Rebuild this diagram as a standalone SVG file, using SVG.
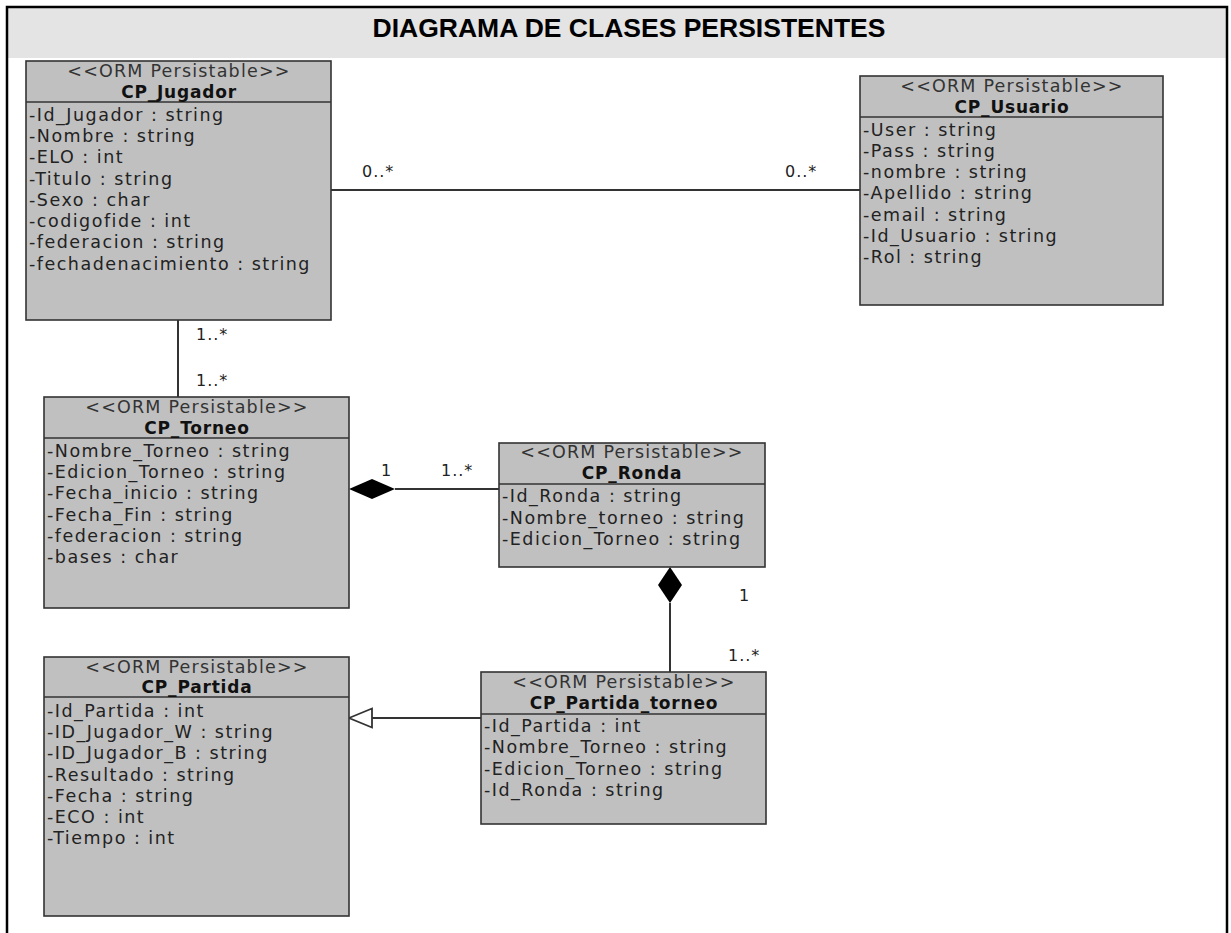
<svg xmlns="http://www.w3.org/2000/svg" width="1231" height="933" viewBox="0 0 1231 933">
  <style>
    .cls { fill: #c0c0c0; stroke: #333333; stroke-width: 1.6; }
    .sep { stroke: #333333; stroke-width: 1.6; }
    .st { font-family: "DejaVu Sans", sans-serif; font-size: 17.5px; letter-spacing: 1.2px; fill: #333333; text-anchor: middle; }
    .nm { font-family: "DejaVu Sans", sans-serif; font-size: 17px; font-weight: bold; letter-spacing: 0.8px; fill: #111111; text-anchor: middle; }
    .at { font-family: "DejaVu Sans", sans-serif; font-size: 17.5px; letter-spacing: 1.5px; fill: #222222; }
    .lbl { font-family: "DejaVu Sans", sans-serif; font-size: 16px; letter-spacing: 1px; fill: #222222; }
    .ln { stroke: #333333; stroke-width: 2; fill: none; }
    .title { font-family: "Liberation Sans", Arial, sans-serif; font-size: 26.5px; font-weight: bold; fill: #000000; text-anchor: middle; }
  </style>

  <!-- page frame and title band -->
  <rect x="8" y="8" width="1219" height="50" fill="#e4e4e4"/>
  <path d="M7,933 L7,7 L1227,7 L1227,933" fill="none" stroke="#000000" stroke-width="2.5"/>
  <text class="title" x="629" y="37">DIAGRAMA DE CLASES PERSISTENTES</text>

  <!-- connectors -->
  <g id="connectors">
    <!-- Jugador - Usuario association -->
    <line class="ln" x1="331" y1="190" x2="860" y2="190"/>
    <text class="lbl" x="362" y="177">0..*</text>
    <text class="lbl" x="785" y="177">0..*</text>
    <!-- Jugador - Torneo association -->
    <line class="ln" x1="178" y1="320" x2="178" y2="397"/>
    <text class="lbl" x="196" y="340">1..*</text>
    <text class="lbl" x="196" y="386">1..*</text>
    <!-- Torneo composes Ronda -->
    <line class="ln" x1="395" y1="489" x2="499" y2="489"/>
    <path d="M349,489 L372,479 L395,489 L372,499 Z" fill="#000000"/>
    <text class="lbl" x="381" y="476">1</text>
    <text class="lbl" x="441" y="476">1..*</text>
    <!-- Ronda composes Partida_torneo -->
    <line class="ln" x1="670" y1="603" x2="670" y2="672"/>
    <path d="M670,567 L682,585 L670,603 L658,585 Z" fill="#000000"/>
    <text class="lbl" x="739" y="601">1</text>
    <text class="lbl" x="728" y="661">1..*</text>
    <!-- Partida_torneo generalizes Partida -->
    <line class="ln" x1="372" y1="718" x2="481" y2="718"/>
    <path d="M349,718 L372,708.5 L372,727.5 Z" fill="#ffffff" stroke="#333333" stroke-width="1.8"/>
  </g>

  <!-- CP_Jugador -->
  <g id="CP_Jugador">
    <rect class="cls" x="26" y="61" width="305" height="259"/>
    <line class="sep" x1="26" y1="102" x2="331" y2="102"/>
    <text class="st" x="179" y="77">&lt;&lt;ORM Persistable&gt;&gt;</text>
    <text class="nm" x="179" y="98">CP_Jugador</text>
    <text class="at" x="29" y="121">-Id_Jugador : string</text>
    <text class="at" x="29" y="142">-Nombre : string</text>
    <text class="at" x="29" y="163">-ELO : int</text>
    <text class="at" x="29" y="185">-Titulo : string</text>
    <text class="at" x="29" y="206">-Sexo : char</text>
    <text class="at" x="29" y="227">-codigofide : int</text>
    <text class="at" x="29" y="248">-federacion : string</text>
    <text class="at" x="29" y="270">-fechadenacimiento : string</text>
  </g>

  <!-- CP_Usuario -->
  <g id="CP_Usuario">
    <rect class="cls" x="860" y="76" width="303" height="229"/>
    <line class="sep" x1="860" y1="117" x2="1163" y2="117"/>
    <text class="st" x="1012" y="92">&lt;&lt;ORM Persistable&gt;&gt;</text>
    <text class="nm" x="1012" y="113">CP_Usuario</text>
    <text class="at" x="863" y="136">-User : string</text>
    <text class="at" x="863" y="157">-Pass : string</text>
    <text class="at" x="863" y="178">-nombre : string</text>
    <text class="at" x="863" y="199">-Apellido : string</text>
    <text class="at" x="863" y="221">-email : string</text>
    <text class="at" x="863" y="242">-Id_Usuario : string</text>
    <text class="at" x="863" y="263">-Rol : string</text>
  </g>

  <!-- CP_Torneo -->
  <g id="CP_Torneo">
    <rect class="cls" x="44" y="397" width="305" height="211"/>
    <line class="sep" x1="44" y1="438" x2="349" y2="438"/>
    <text class="st" x="197" y="413">&lt;&lt;ORM Persistable&gt;&gt;</text>
    <text class="nm" x="197" y="434">CP_Torneo</text>
    <text class="at" x="47" y="457">-Nombre_Torneo : string</text>
    <text class="at" x="47" y="478">-Edicion_Torneo : string</text>
    <text class="at" x="47" y="499">-Fecha_inicio : string</text>
    <text class="at" x="47" y="521">-Fecha_Fin : string</text>
    <text class="at" x="47" y="542">-federacion : string</text>
    <text class="at" x="47" y="563">-bases : char</text>
  </g>

  <!-- CP_Ronda -->
  <g id="CP_Ronda">
    <rect class="cls" x="499" y="443" width="266" height="124"/>
    <line class="sep" x1="499" y1="484" x2="765" y2="484"/>
    <text class="st" x="632" y="458">&lt;&lt;ORM Persistable&gt;&gt;</text>
    <text class="nm" x="632" y="479">CP_Ronda</text>
    <text class="at" x="502" y="502">-Id_Ronda : string</text>
    <text class="at" x="502" y="524">-Nombre_torneo : string</text>
    <text class="at" x="502" y="545">-Edicion_Torneo : string</text>
  </g>

  <!-- CP_Partida -->
  <g id="CP_Partida">
    <rect class="cls" x="44" y="657" width="305" height="259"/>
    <line class="sep" x1="44" y1="697" x2="349" y2="697"/>
    <text class="st" x="197" y="673">&lt;&lt;ORM Persistable&gt;&gt;</text>
    <text class="nm" x="197" y="693">CP_Partida</text>
    <text class="at" x="47" y="717">-Id_Partida : int</text>
    <text class="at" x="47" y="738">-ID_Jugador_W : string</text>
    <text class="at" x="47" y="759">-ID_Jugador_B : string</text>
    <text class="at" x="47" y="781">-Resultado : string</text>
    <text class="at" x="47" y="802">-Fecha : string</text>
    <text class="at" x="47" y="823">-ECO : int</text>
    <text class="at" x="47" y="844">-Tiempo : int</text>
  </g>

  <!-- CP_Partida_torneo -->
  <g id="CP_Partida_torneo">
    <rect class="cls" x="481" y="672" width="285" height="152"/>
    <line class="sep" x1="481" y1="714" x2="766" y2="714"/>
    <text class="st" x="624" y="688">&lt;&lt;ORM Persistable&gt;&gt;</text>
    <text class="nm" x="624" y="709">CP_Partida_torneo</text>
    <text class="at" x="484" y="732">-Id_Partida : int</text>
    <text class="at" x="484" y="753">-Nombre_Torneo : string</text>
    <text class="at" x="484" y="775">-Edicion_Torneo : string</text>
    <text class="at" x="484" y="796">-Id_Ronda : string</text>
  </g>
</svg>
